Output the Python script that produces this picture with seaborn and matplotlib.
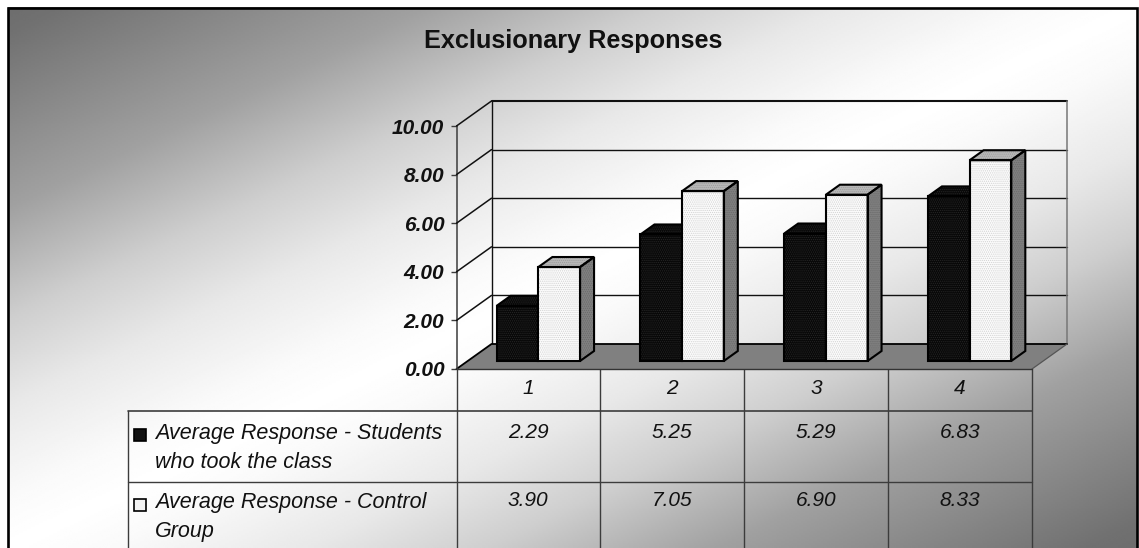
import numpy as np
import pandas as pd
import matplotlib
matplotlib.use("Agg")
import matplotlib.pyplot as plt
from matplotlib.patches import Polygon, Rectangle
from matplotlib.transforms import ScaledTranslation
import seaborn as sns

# ---- data ----
questions = ["1", "2", "3", "4"]
series_names = ["Average Response - Students\nwho took the class",
                "Average Response - Control\nGroup"]
students = [2.29, 5.25, 5.29, 6.83]
control = [3.90, 7.05, 6.90, 8.33]
value_ticks = [0, 2, 4, 6, 8, 10]
title = "Exclusionary Responses"

W, H = 1139, 548
DPI = 100
FONT = "Liberation Sans"
sns.set_theme(style="white")
plt.rcParams["font.family"] = [FONT, "DejaVu Sans"]
plt.rcParams["hatch.linewidth"] = 0.6

fig = plt.figure(figsize=(W / DPI, H / DPI), dpi=DPI, facecolor="white")


def add_axes_px(x0, y0, x1, y1, **kw):
    """axes from pixel box (top-left origin)"""
    return fig.add_axes([x0 / W, 1 - y1 / H, (x1 - x0) / W, (y1 - y0) / H], **kw)


# ---- canvas: background, frame, table ----
canvas = add_axes_px(0, 0, W, H, zorder=0)
canvas.set_xlim(0, W)
canvas.set_ylim(H, 0)
canvas.axis("off")

xx, yy = np.meshgrid(np.linspace(0, 1, 570), np.linspace(0, 1, 274))
dist = np.abs((xx + yy) / 2 - 0.5)
shade = np.interp(dist, [0, 0.046, 0.133, 0.212, 0.315, 0.48, 0.5],
                  [1, 0.98, 0.91, 0.81, 0.63, 0.44, 0.43])
canvas.imshow(shade, cmap="gray", vmin=0, vmax=1, extent=(7.5, 1136.5, H, 7.5),
              aspect="auto", interpolation="bilinear", zorder=0)
canvas.set_xlim(0, W)
canvas.set_ylim(H, 0)
canvas.plot([7.5, 7.5, 1136.5, 1136.5], [H + 3, 8, 8, H + 3], color="black", lw=1.9,
            solid_joinstyle="miter", zorder=1)

LINE = "#3c3c3c"
col_x = [456.5, 600, 744, 888, 1032]
canvas.plot([128, 1032], [411, 411], color=LINE, lw=1.2, zorder=2)
canvas.plot([128, 1032], [482, 482], color=LINE, lw=1.0, zorder=2)
canvas.plot([128, 128], [411, H], color=LINE, lw=1.0, zorder=2)
for cx in col_x:
    canvas.plot([cx, cx], [369, H], color=LINE, lw=1.0, zorder=2)

cell_kw = dict(family=[FONT], style="italic", color="#111111", fontsize=15,
               ha="center", va="center", zorder=3)
centers = [(a + b) / 2 for a, b in zip(col_x[:-1], col_x[1:])]
for cx, q, a, b in zip(centers, questions, students, control):
    canvas.text(cx, 389, q, **cell_kw)
    canvas.text(cx, 432.5, f"{a:.2f}", **cell_kw)
    canvas.text(cx, 501, f"{b:.2f}", **cell_kw)

label_kw = dict(family=[FONT], style="italic", color="#111111", fontsize=15.5,
                ha="left", va="center", zorder=3, linespacing=1.53)
canvas.text(155, 448, series_names[0], **label_kw)
canvas.text(155, 517, series_names[1], **label_kw)
canvas.add_patch(Rectangle((134, 429), 12, 12, fc="#111111", ec="black", lw=1.2, zorder=3))
canvas.add_patch(Rectangle((134, 499), 12, 12, fc="#f2f2f2", ec="black", lw=1.2, zorder=3))
canvas.text(573, 41, title, family=[FONT], fontweight="bold", color="#111111",
            fontsize=18.2, ha="center", va="center", zorder=3)

# ---- front plane: value axis and walls ----
front = add_axes_px(456.5, 126, 1032, 369, zorder=1)
front.patch.set_alpha(0)
front.set_xlim(0, 1)
front.set_ylim(0, 10)
for s in ["top", "right", "bottom"]:
    front.spines[s].set_visible(False)
front.spines["left"].set_color(LINE)
front.spines["left"].set_linewidth(1.1)
front.set_xticks([])
front.set_yticks(value_ticks)
front.set_yticklabels([f"{v:.2f}" for v in value_ticks], family=[FONT], fontweight="bold",
                      style="italic", fontsize=15, color="#111111")
front.tick_params(axis="y", length=4.3, width=1, color=LINE, pad=4.5, left=True)

DX, DY = 35, 25
back = front.transData + ScaledTranslation(DX / DPI, DY / DPI, fig.dpi_scale_trans)
to_disp = front.transData.transform

for v in value_ticks[1:]:
    lw = 1.5 if v == value_ticks[-1] else 1.0
    front.plot([0, 1], [v, v], transform=back, color="#111111", lw=lw, clip_on=False, zorder=1)
    x0, y0 = to_disp((0, v))
    front.annotate("", xy=(x0 + DX, y0 + DY), xytext=(x0, y0), xycoords="figure pixels",
                   textcoords="figure pixels",
                   arrowprops=dict(arrowstyle="-", color="#111111", lw=1.1, shrinkA=0, shrinkB=0))
front.plot([0, 0], [0, 10], transform=back, color="#111111", lw=1.0, clip_on=False, zorder=1)
front.plot([1, 1], [0, 10], transform=back, color="#777777", lw=1.1, clip_on=False, zorder=1)

(fx0, fy0), (fx1, _) = to_disp((0, 0)), to_disp((1, 0))
floor = Polygon([(fx0, fy0), (fx0 + DX, fy0 + DY), (fx1 + DX, fy0 + DY), (fx1, fy0)],
                closed=True, fc="#808080", ec="none", transform=None, zorder=2, clip_on=False)
front.add_patch(floor)
front.plot([fx0, fx0 + DX, fx1 + DX], [fy0, fy0 + DY, fy0 + DY], transform=None,
           color="black", lw=1.3, zorder=2.1, clip_on=False)
front.plot([fx1 + DX, fx1], [fy0 + DY, fy0], transform=None, color="#555555", lw=0.9,
           zorder=2.1, clip_on=False)
front.plot([fx0, fx1], [fy0, fy0], transform=None, color="#333333", lw=1.0, zorder=2.1,
           clip_on=False)

# ---- bars (front faces from seaborn, extruded from their geometry) ----
df = pd.DataFrame({
    "Question": questions * 2,
    "Response": students + control,
    "Group": [series_names[0]] * 4 + [series_names[1]] * 4,
})
bar_ax = add_axes_px(466.5, 120, 1041.5, 361, zorder=2)
bar_ax.patch.set_alpha(0)
sns.barplot(data=df, x="Question", y="Response", hue="Group", ax=bar_ax, width=0.58,
            palette=["#080808", "#fcfcfc"], legend=False, saturation=1, errorbar=None)
bar_ax.set_xlim(-0.5, 3.5)
bar_ax.set_ylim(0, 10)
bar_ax.axis("off")

dx, dy = 14, 10
fig.canvas.draw()
bars = list(bar_ax.patches)
for i, p in enumerate(bars):
    black = i < len(students)
    base_z = 3 if black else 6
    x, y, w, h = p.get_x(), p.get_y(), p.get_width(), p.get_height()
    (a, b), (c, d) = bar_ax.transData.transform([(x, y), (x + w, y + h)])
    dots = "#262626" if black else "#d2d2d2"
    p.set_hatch("........")
    p.set_edgecolor(dots)
    p.set_linewidth(0)
    p.set_zorder(base_z + 1)
    top_fc, top_h = ("#080808", "#262626") if black else ("#b8b8b8", "#9c9c9c")
    side_fc, side_h = ("#080808", "#262626") if black else ("#808080", "#6a6a6a")
    # hatched faces
    bar_ax.add_patch(Polygon([(a, d), (a + dx, d + dy), (c + dx, d + dy), (c, d)], closed=True,
                             fc=top_fc, ec=top_h, hatch="........", lw=0, transform=None,
                             zorder=base_z, clip_on=False))
    bar_ax.add_patch(Polygon([(c, b), (c + dx, b + dy), (c + dx, d + dy), (c, d)], closed=True,
                             fc=side_fc, ec=side_h, hatch="........", lw=0, transform=None,
                             zorder=base_z, clip_on=False))
    # outlines
    for poly in ([(a, b), (c, b), (c, d), (a, d)],
                 [(a, d), (a + dx, d + dy), (c + dx, d + dy), (c, d)],
                 [(c, b), (c + dx, b + dy), (c + dx, d + dy), (c, d)]):
        bar_ax.add_patch(Polygon(poly, closed=True, fc="none", ec="black", lw=1.5,
                                 transform=None, zorder=base_z + 2, clip_on=False,
                                 joinstyle="miter"))

fig.savefig("out.png", dpi=DPI)
